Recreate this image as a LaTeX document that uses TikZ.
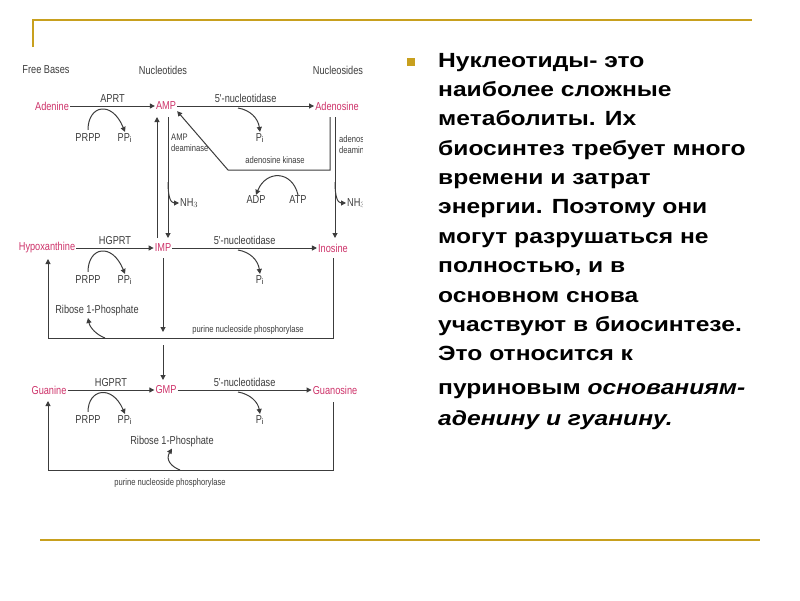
\documentclass[tikz,border=0pt]{standalone}
\usepackage{fontspec}
\setmainfont{Liberation Sans}
\newfontfamily\dfont[FakeStretch=0.8]{Liberation Sans}
\newfontfamily\rfont[FakeStretch=1.2]{Liberation Sans}
\usetikzlibrary{arrows.meta}
\definecolor{gold}{RGB}{200,160,30}
\definecolor{pinkc}{RGB}{205,50,105}
\definecolor{dgray}{RGB}{60,60,60}
\tikzset{
 met/.style={font=\dfont\fontsize{11.5}{12}\selectfont,text=pinkc,inner sep=1pt},
 lab/.style={font=\dfont\fontsize{11.5}{12}\selectfont,text=dgray,inner sep=1pt},
 sml/.style={font=\dfont\fontsize{9.5}{11}\selectfont,text=dgray,inner sep=1pt},
 ar/.style={draw=dgray,line width=1pt,-{Triangle[length=5pt,width=5pt]}},
 ru/.style={font=\rfont\bfseries\fontsize{20.5}{22}\selectfont,anchor=base west,inner sep=0pt}
}
\begin{document}
\begin{tikzpicture}[x=1pt,y=-1pt]
\useasboundingbox (0,0) rectangle (800,600);
\draw[gold,line width=1.2pt] (33,47) -- (33,20) -- (752,20);
\draw[gold,line width=1.2pt] (40,540) -- (760,540);
\begin{scope}
\clip (0,55) rectangle (362,500);
\node[lab] (h1) at (46,70) {Free Bases};
\node[lab] (h2) at (163,70) {Nucleotides};
\node[lab] (h3) at (338,70) {Nucleosides};
% row 1
\node[met] (ade) at (52,106) {Adenine};
\node[met] (amp) at (166,106) {AMP};
\node[met] (ads) at (337,106) {Adenosine};
\draw[ar] (ade) -- (amp) node[lab,midway,above=2pt] {APRT};
\draw[ar] (amp) -- (ads) node[lab,midway,above=2pt] {5'-nucleotidase};
\node[lab] (prpp1) at (88,138) {PRPP};
\node[lab] (ppi1) at (125,138) {PP$_\mathrm{i}$};
\draw[ar] (prpp1.north) ++(0,-3) .. controls (88,105) and (112,100) .. (ppi1.north);
\node[lab] (pi1) at (260,138) {P$_\mathrm{i}$};
\draw[ar] (238,108) .. controls (250,110) and (258,118) .. (pi1.north);
\node[sml,align=left,anchor=west] (ampd) at (170,143) {AMP\\deaminase};
\node[sml,align=left,anchor=west] (adod) at (338,145) {adenosine\\deaminase};
% row 2
\node[met] (hyp) at (47,248) {Hypoxanthine};
\node[met] (imp) at (163,248) {IMP};
\node[met] (ino) at (333,248) {Inosine};
\draw[ar] (hyp) -- (imp) node[lab,midway,above=2pt] {HGPRT};
\draw[ar] (imp) -- (ino) node[lab,midway,above=2pt] {5'-nucleotidase};
\node[lab] (prpp2) at (88,280) {PRPP};
\node[lab] (ppi2) at (125,280) {PP$_\mathrm{i}$};
\draw[ar] (prpp2.north) ++(0,-3) .. controls (88,247) and (112,242) .. (ppi2.north);
\node[lab] (pi2) at (260,280) {P$_\mathrm{i}$};
\draw[ar] (238,250) .. controls (250,252) and (258,260) .. (pi2.north);
% AMP <-> IMP
\draw[ar] (168,117) -- (168,238);
\draw[ar] (157,238) -- (157,117);
\coordinate (nb) at (168,182);
\node[lab,anchor=west] (nh3) at (179,203) {NH$_3$};
\draw[ar] (nb) .. controls (168,195) and (170,203) .. (nh3.west);
% adenosine kinase
\coordinate (k1) at (330,170);
\coordinate (k2) at (228,170);
\draw[ar] (330,117) -- (k1) -- (k2) -- (amp.south east);
\node[sml] (adk) at (275,160) {adenosine kinase};
\node[lab] (adp) at (256,200) {ADP};
\node[lab] (atp) at (298,200) {ATP};
\draw[ar] (atp.north) .. controls (292,170) and (266,170) .. (adp.north);
% adenosine -> inosine
\draw[ar] (335,117) -- (335,238);
\coordinate (nb2) at (335,182);
\node[lab,anchor=west] (nh3b) at (346,203) {NH$_3$};
\draw[ar] (nb2) .. controls (335,195) and (337,203) .. (nh3b.west);
% salvage loop 1
\coordinate (l1a) at (333,338);
\coordinate (l1b) at (48,338);
\draw[ar] (333,258) -- (l1a) -- (l1b) -- (48,259);
\node[lab] (rib1) at (97,311) {Ribose 1-Phosphate};
\draw[ar] (105,338) .. controls (97,335) and (90,328) .. (88,318);
\node[sml] (pnp1) at (248,330) {purine nucleoside phosphorylase};
\draw[ar] (163,258) -- (163,332);
% row 3
\node[met] (gua) at (49,390) {Guanine};
\node[met] (gmp) at (166,390) {GMP};
\node[met] (guo) at (335,390) {Guanosine};
\coordinate (g0) at (163,345);
\draw[ar] (g0) -- (163,380);
\draw[ar] (gua) -- (gmp) node[lab,midway,above=2pt] {HGPRT};
\draw[ar] (gmp) -- (guo) node[lab,midway,above=2pt] {5'-nucleotidase};
\node[lab] (prpp3) at (88,420) {PRPP};
\node[lab] (ppi3) at (125,420) {PP$_\mathrm{i}$};
\draw[ar] (prpp3.north) ++(0,-3) .. controls (88,389) and (112,384) .. (ppi3.north);
\node[lab] (pi3) at (260,420) {P$_\mathrm{i}$};
\draw[ar] (238,392) .. controls (250,394) and (258,402) .. (pi3.north);
\node[lab] (rib2) at (172,442) {Ribose 1-Phosphate};
\coordinate (l2a) at (333,470);
\coordinate (l2b) at (48,470);
\draw[ar] (333,402) -- (l2a) -- (l2b) -- (48,401);
\draw[ar] (180,470) .. controls (172,467) and (165,460) .. (rib2.south);
\node[sml] (pnp2) at (170,483) {purine nucleoside phosphorylase};
\end{scope}
% text
\fill[gold] (407,58) rectangle (415,66);
\node[ru] (t1) at (438,67) {Нуклеотиды- это};
\node[ru] (t2) at (438,96) {наиболее сложные};
\node[ru] (t3) at (438,125) {метаболиты. Их};
\node[ru] (t4) at (438,155) {биосинтез требует много};
\node[ru] (t5) at (438,184) {времени и затрат};
\node[ru] (t6) at (438,213) {энергии. Поэтому они};
\node[ru] (t7) at (438,243) {могут разрушаться не};
\node[ru] (t8) at (438,272) {полностью, и в};
\node[ru] (t9) at (438,302) {основном снова};
\node[ru] (t10) at (438,331) {участвуют в биосинтезе.};
\node[ru] (t11) at (438,360) {Это относится к};
\node[ru] (t12) at (438,394) {пуриновым \itshape основаниям-};
\node[ru] (t13) at (438,425) {\itshape аденину и гуанину.};
\end{tikzpicture}
\end{document}
